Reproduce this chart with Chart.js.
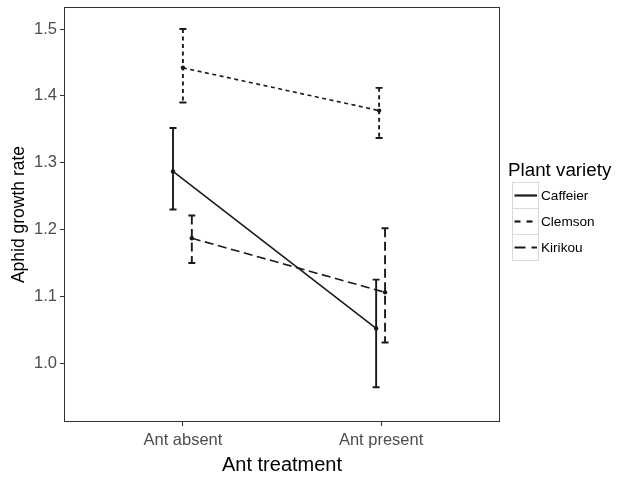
<!DOCTYPE html>
<html>
<head>
<meta charset="utf-8">
<script src="https://cdn.jsdelivr.net/npm/chart.js@4/dist/chart.umd.min.js"></script>
<style>
  html, body { margin: 0; padding: 0; background: #fff; }
  #wrap { width: 619px; height: 477px; }
</style>
</head>
<body>
<div id="wrap"><canvas id="growth"></canvas></div>
<script>
// categories on the x axis
const treatments = ['Ant absent', 'Ant present'];
const varieties = ['Caffeier', 'Clemson', 'Kirikou'];
// dodge of each variety around its category (x units), per treatment
const dodgeAbsent = [-0.05, 0, 0.045];
const dodgePresent = [-0.025, -0.01, 0.02];
// means and error bar ends, [absent, present]
const caffeierMean = [1.287, 1.052];
const caffeierLow = [1.230, 0.964];
const caffeierHigh = [1.352, 1.125];
const clemsonMean = [1.442, 1.378];
const clemsonLow = [1.390, 1.337];
const clemsonHigh = [1.500, 1.412];
const kirikouMean = [1.187, 1.106];
const kirikouLow = [1.150, 1.031];
const kirikouHigh = [1.221, 1.202];
const yTicks = [1.0, 1.1, 1.2, 1.3, 1.4, 1.5];

const means = [caffeierMean, clemsonMean, kirikouMean];
const lows = [caffeierLow, clemsonLow, kirikouLow];
const highs = [caffeierHigh, clemsonHigh, kirikouHigh];
const dashes = [[], [4, 3.5], [9, 4.5]];
const ink = '#1a1a1a';
const font = '"Liberation Sans", Arial, sans-serif';

const datasets = varieties.map((v, i) => ({
  label: v,
  data: treatments.map((t, j) => ({
    x: j + 1 + (j === 0 ? dodgeAbsent[i] : dodgePresent[i]),
    y: means[i][j],
    lo: lows[i][j],
    hi: highs[i][j]
  })),
  showLine: true,
  borderColor: ink,
  backgroundColor: ink,
  borderWidth: 1.6,
  borderDash: dashes[i],
  pointRadius: 2.2,
  pointBorderWidth: 0,
  pointHoverRadius: 2.2
}));

const errorBars = {
  id: 'errorBars',
  beforeDatasetsDraw(chart) {
    const ctx = chart.ctx;
    const xs = chart.scales.x, ys = chart.scales.y;
    ctx.save();
    ctx.strokeStyle = ink;
    ctx.lineWidth = 1.9;
    chart.data.datasets.forEach(ds => {
      ds.data.forEach(p => {
        const x = xs.getPixelForValue(p.x);
        const yl = ys.getPixelForValue(p.lo);
        const yh = ys.getPixelForValue(p.hi);
        ctx.setLineDash(ds.borderDash);
        ctx.beginPath();
        ctx.moveTo(x, yh); ctx.lineTo(x, yl);
        ctx.stroke();
        ctx.setLineDash([]);
        ctx.beginPath();
        ctx.moveTo(x - 3.5, yh); ctx.lineTo(x + 3.5, yh);
        ctx.moveTo(x - 3.5, yl); ctx.lineTo(x + 3.5, yl);
        ctx.stroke();
      });
    });
    ctx.restore();
  }
};

const panelAndLegend = {
  id: 'panelAndLegend',
  afterDraw(chart) {
    const ctx = chart.ctx;
    const a = chart.chartArea;
    ctx.save();
    ctx.strokeStyle = '#333';
    ctx.lineWidth = 1;
    ctx.strokeRect(a.left + 0.5, a.top + 0.5, a.right - a.left - 1, a.bottom - a.top - 1);

    // legend
    const lx = a.right + 12, ty = 171;
    ctx.fillStyle = '#000';
    ctx.font = '18.8px ' + font;
    ctx.textBaseline = 'middle';
    ctx.fillText('Plant variety', lx - 4, ty);
    chart.data.datasets.forEach((ds, i) => {
      const by = 182 + i * 26;
      ctx.strokeStyle = '#d9d9d9';
      ctx.lineWidth = 1;
      ctx.setLineDash([]);
      ctx.strokeRect(lx + 0.5, by + 0.5, 26, 26);
      ctx.strokeStyle = ink;
      ctx.lineWidth = 2.2;
      ctx.setLineDash(i === 1 ? [6, 6] : i === 2 ? [11, 6] : []);
      ctx.beginPath();
      ctx.moveTo(lx + 2.5, by + 13.5);
      ctx.lineTo(lx + 25, by + 13.5);
      ctx.stroke();
      ctx.setLineDash([]);
      ctx.fillStyle = '#000';
      ctx.font = '13.6px ' + font;
      ctx.fillText(ds.label, lx + 29, by + 14);
    });
    ctx.restore();
  }
};

new Chart(document.getElementById('growth'), {
  type: 'scatter',
  data: { datasets },
  options: {
    responsive: true,
    maintainAspectRatio: false,
    animation: false,
    layout: { padding: { top: 7, right: 119, left: 0, bottom: 0 } },
    plugins: { legend: { display: false }, tooltip: { enabled: false } },
    scales: {
      x: {
        type: 'linear',
        min: 0.4,
        max: 2.6,
        afterBuildTicks: s => { s.ticks = treatments.map((t, j) => ({ value: j + 1 })); },
        afterFit: s => { s.height = 55; s.paddingLeft = 0; s.paddingRight = 0; },
        grid: { display: true, drawOnChartArea: false, tickLength: 4, color: '#333', lineWidth: 1 },
        border: { display: false },
        ticks: {
          padding: 5,
          color: '#4d4d4d',
          font: { family: font, size: 16.5 },
          callback: v => treatments[v - 1]
        },
        title: {
          display: true,
          text: 'Ant treatment',
          color: '#000',
          font: { family: font, size: 20 },
          padding: { top: 2, bottom: 0 }
        }
      },
      y: {
        type: 'linear',
        min: 0.912,
        max: 1.533,
        afterBuildTicks: s => { s.ticks = yTicks.map(v => ({ value: v })); },
        afterFit: s => { s.width = 64; s.paddingTop = 0; s.paddingBottom = 0; },
        grid: { display: true, drawOnChartArea: false, tickLength: 4, color: '#333', lineWidth: 1 },
        border: { display: false },
        ticks: {
          padding: 3,
          color: '#4d4d4d',
          font: { family: font, size: 16.5 },
          callback: v => v.toFixed(1)
        },
        title: {
          display: true,
          text: 'Aphid growth rate',
          color: '#000',
          font: { family: font, size: 17.5 },
          padding: { top: 9, bottom: 0 }
        }
      }
    }
  },
  plugins: [errorBars, panelAndLegend]
});
</script>
</body>
</html>
